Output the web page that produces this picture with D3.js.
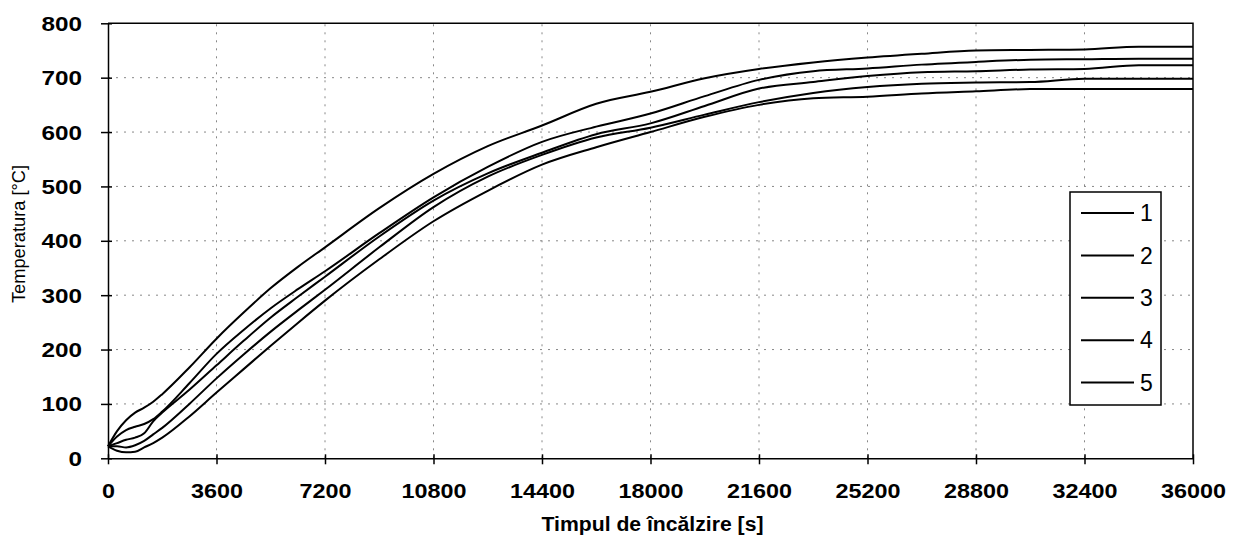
<!DOCTYPE html>
<html>
<head>
<meta charset="utf-8">
<script src="https://cdn.jsdelivr.net/npm/d3@7"></script>
<style>
body { margin: 0; background: #fff; }
text { font-family: "Liberation Sans", Arial, sans-serif; fill: #000; }
</style>
</head>
<body>
<div id="chart"></div>
<script>
// time [s] and temperature [C]
var times = [0, 300, 600, 900, 1200, 1500, 1800, 2700, 3600, 4500, 5400, 6300, 7200, 9000, 10800, 12600, 14400, 16200, 18000, 19800, 21600, 23400, 25200, 27000, 28800, 30600, 32400, 34200, 36000];
var temp1 = [22, 50, 70, 84, 93, 104, 118, 167, 220, 268, 313, 352, 388, 460, 523, 574, 612, 652, 674, 699, 716, 728, 737, 744, 750, 751, 752, 757, 757];
var temp2 = [22, 40, 52, 58, 63, 72, 86, 138, 192, 236, 276, 311, 344, 414, 480, 536, 582, 610, 634, 666, 696, 712, 717, 724, 729, 733, 734, 735, 735];
var temp3 = [22, 28, 34, 38, 46, 68, 84, 126, 171, 216, 259, 297, 334, 408, 474, 524, 562, 596, 616, 648, 680, 692, 703, 710, 712, 715, 716, 723, 723];
var temp4 = [22, 22, 20, 24, 32, 44, 56, 100, 147, 191, 233, 272, 310, 388, 462, 518, 558, 590, 608, 632, 655, 672, 683, 689, 691, 692, 698, 698, 698];
var temp5 = [22, 14, 11, 12, 20, 28, 38, 77, 121, 164, 207, 249, 290, 366, 436, 492, 540, 572, 600, 628, 650, 662, 665, 671, 675, 679, 679, 679, 679];
var seriesNames = ["1", "2", "3", "4", "5"];
var xTickValues = [0, 3600, 7200, 10800, 14400, 18000, 21600, 25200, 28800, 32400, 36000];
var yTickValues = [0, 100, 200, 300, 400, 500, 600, 700, 800];

var width = 1234, height = 548;
var margin = { top: 23.3, right: 41, bottom: 89.7, left: 108 };

var svg = d3.select("#chart")
    .append("svg")
    .attr("width", width)
    .attr("height", height);

var x = d3.scaleLinear()
    .domain([0, 36000])
    .range([margin.left, width - margin.right]);

var y = d3.scaleLinear()
    .domain([0, 800])
    .range([height - margin.bottom, margin.top]);

// dotted grid
svg.append("g")
    .selectAll("line")
    .data(yTickValues.slice(1, -1))
    .enter().append("line")
    .attr("x1", x(0)).attr("x2", x(36000))
    .attr("y1", function (d) { return y(d); })
    .attr("y2", function (d) { return y(d); })
    .attr("stroke", "#888")
    .attr("stroke-dasharray", "2,6");

svg.append("g")
    .selectAll("line")
    .data(xTickValues.slice(1, -1))
    .enter().append("line")
    .attr("y1", y(0)).attr("y2", y(800))
    .attr("x1", function (d) { return x(d); })
    .attr("x2", function (d) { return x(d); })
    .attr("stroke", "#888")
    .attr("stroke-dasharray", "2,6");

// top and right frame
svg.append("path")
    .attr("d", "M" + x(0) + "," + y(800) + "H" + x(36000) + "V" + y(0))
    .attr("fill", "none")
    .attr("stroke", "#000")
    .attr("stroke-width", 1.5);

var series = [temp1, temp2, temp3, temp4, temp5];

var line = d3.line()
    .x(function (d, i) { return x(times[i]); })
    .y(function (d) { return y(d); })
    .curve(d3.curveMonotoneX);

svg.append("g")
    .selectAll("path")
    .data(series)
    .enter().append("path")
    .attr("fill", "none")
    .attr("stroke", "#000")
    .attr("stroke-width", 2)
    .attr("stroke-linejoin", "round")
    .attr("d", line);

// axes
var xAxis = svg.append("g")
    .attr("transform", "translate(0," + y(0) + ")")
    .call(d3.axisBottom(x).tickValues(xTickValues).tickSizeOuter(0).tickFormat(d3.format("d")));
xAxis.select(".domain").attr("stroke", "#000").attr("stroke-width", 1.5);
xAxis.selectAll(".tick line").attr("y1", -4).attr("y2", 6).attr("stroke", "#000").attr("stroke-width", 1.5);
xAxis.selectAll(".tick text")
    .attr("y", 26)
    .attr("dy", "0.71em")
    .style("font-size", "20px")
    .style("font-weight", "bold")
    .attr("textLength", function (d) { return String(d).length * 13; })
    .attr("lengthAdjust", "spacingAndGlyphs");

var yAxis = svg.append("g")
    .attr("transform", "translate(" + x(0) + ",0)")
    .call(d3.axisLeft(y).tickValues(yTickValues).tickSizeOuter(0));
yAxis.select(".domain").attr("stroke", "#000").attr("stroke-width", 1.5);
yAxis.selectAll(".tick line").attr("x1", -7).attr("x2", 4).attr("stroke", "#000").attr("stroke-width", 1.5);
yAxis.selectAll(".tick text")
    .attr("x", -26)
    .attr("dy", "0.35em")
    .style("font-size", "20px")
    .style("font-weight", "bold")
    .attr("textLength", function (d) { return String(d).length * 13.5; })
    .attr("lengthAdjust", "spacingAndGlyphs");

// axis titles
svg.append("text")
    .attr("x", (x(0) + x(36000)) / 2 + 2)
    .attr("y", 531)
    .attr("text-anchor", "middle")
    .style("font-size", "20px")
    .style("font-weight", "bold")
    .attr("textLength", 222)
    .attr("lengthAdjust", "spacingAndGlyphs")
    .text("Timpul de încălzire [s]");

svg.append("text")
    .attr("transform", "translate(25,234) rotate(-90)")
    .attr("text-anchor", "middle")
    .style("font-size", "19px")
    .attr("textLength", 138)
    .attr("lengthAdjust", "spacingAndGlyphs")
    .text("Temperatura [°C]");

// legend
var legend = svg.append("g").attr("transform", "translate(1070,192)");
legend.append("rect")
    .attr("width", 91)
    .attr("height", 213)
    .attr("fill", "#fff")
    .attr("stroke", "#000")
    .attr("stroke-width", 1.5);

var items = legend.selectAll(".item")
    .data(seriesNames)
    .enter().append("g")
    .attr("transform", function (d, i) { return "translate(0," + (21 + i * 42.4) + ")"; });
items.append("line")
    .attr("x1", 11).attr("x2", 64)
    .attr("stroke", "#000")
    .attr("stroke-width", 2);
items.append("text")
    .attr("x", 70)
    .attr("dy", "0.36em")
    .style("font-size", "23px")
    .text(function (d) { return d; });
</script>
</body>
</html>
